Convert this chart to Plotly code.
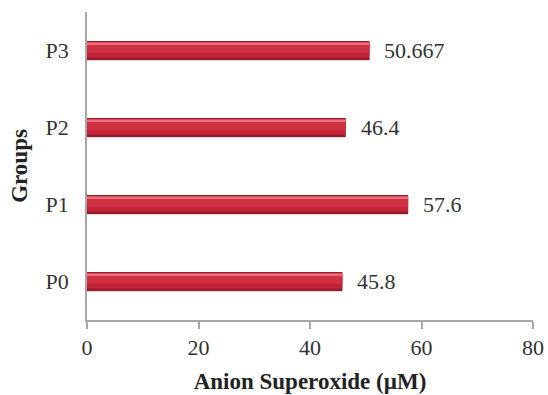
import plotly.graph_objects as go

# Superoxide anion level per treatment group
groups = ["P0", "P1", "P2", "P3"]
superoxide = [45.8, 57.6, 46.4, 50.667]
value_labels = ["45.8", "57.6", "46.4", "50.667"]

x_ticks = [0, 20, 40, 60, 80]

SERIF = "Liberation Serif, Times New Roman, serif"
AXIS_GREY = "#a6a6a6"

fig = go.Figure()

# Layered bars give the bars a rounded, shaded look:
# (width, offset, colour) in category units; offsets grow upward
layers = [
    (0.25, -0.14, "rgba(140,140,140,0.30)"),     # soft drop shadow
    (0.245, -0.1225, "#9c1a29"),                  # dark rim
    (0.20, -0.09, "#c22537"),                     # main body
    (0.13, -0.03, "#d03142"),                     # upper body
    (0.035, 0.07, "#e9707f"),                     # top highlight
]
for w, off, col in layers:
    fig.add_trace(go.Bar(
        y=groups, x=superoxide, orientation="h",
        width=[w] * len(groups), offset=[off] * len(groups),
        marker=dict(color=col, line=dict(width=0)),
        hoverinfo="skip", showlegend=False,
    ))

for g, v, lab in zip(groups, superoxide, value_labels):
    fig.add_annotation(
        x=v, y=g, text=lab, showarrow=False,
        xanchor="left", yanchor="middle", xshift=13,
        font=dict(family=SERIF, size=22, color="#333333"),
    )

fig.update_layout(
    width=548, height=395,
    margin=dict(l=87, r=15, t=12, b=75),
    paper_bgcolor="white", plot_bgcolor="white",
    barmode="overlay",
    font=dict(family=SERIF, color="#333333"),
)

fig.update_xaxes(
    range=[0, 80], tickvals=x_ticks, ticktext=[str(t) for t in x_ticks],
    automargin=False,
    showgrid=False, zeroline=False,
    showline=True, linecolor=AXIS_GREY, linewidth=1.5,
    ticks="outside", ticklen=7, tickcolor=AXIS_GREY, tickwidth=1.5,
    tickfont=dict(family=SERIF, size=22, color="#333333"),
    title=dict(text="<b>Anion Superoxide (µM)</b>", standoff=14,
               font=dict(family=SERIF, size=23, color="#222222")),
)
fig.update_yaxes(
    categoryorder="array", categoryarray=groups,
    range=[-0.5, 3.5], automargin=False,
    showgrid=False, zeroline=False,
    showline=True, linecolor=AXIS_GREY, linewidth=1.5,
    ticks="", ticklabelstandoff=12,
    tickfont=dict(family=SERIF, size=22, color="#333333"),
    title=dict(text="<b>Groups</b>", standoff=12,
               font=dict(family=SERIF, size=23, color="#222222")),
)

fig.write_html("out.html")
